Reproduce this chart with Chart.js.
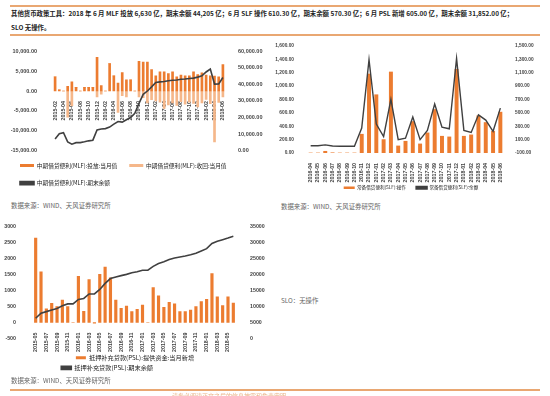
<!DOCTYPE html>
<html>
<head>
<meta charset="utf-8">
<script src="https://cdn.jsdelivr.net/npm/chart.js@4.4.1/dist/chart.umd.min.js"></script>
<style>
body{margin:0;background:#fff;width:550px;height:396px;overflow:hidden;position:relative;font-family:"Noto Sans CJK SC",sans-serif;}
.rule{position:absolute;left:10px;width:530px;height:1.5px;background:#e9a772;}
.t{position:absolute;white-space:nowrap;line-height:1;}
.src{font-size:6.4px;color:#666;}
.box{position:absolute;}
</style>
</head>
<body>
<div class="rule" style="top:5px"></div>
<div class="t" style="left:11px;top:11px;font-size:6.4px;font-weight:bold;color:#222">其他货币政策工具：2018 年 6 月 MLF 投放 6,630 亿，期末余额 44,205 亿；6 月 SLF 操作 610.30 亿，期末余额 570.30 亿；6 月 PSL 新增 605.00 亿，期末余额 31,852.00 亿；</div>
<div class="t" style="left:11px;top:25px;font-size:6.4px;font-weight:bold;color:#222">SLO 无操作。</div>
<div class="rule" style="top:34px"></div>

<div class="box" style="left:0;top:40px;width:268px;height:156px"><canvas id="mlf"></canvas></div>
<div class="box" style="left:272px;top:38px;width:278px;height:162px"><canvas id="slf"></canvas></div>
<div class="box" style="left:0;top:214px;width:270px;height:167px"><canvas id="psl"></canvas></div>

<div class="t src" style="left:11px;top:203px">数据来源：WIND、天风证券研究所</div>
<div class="t src" style="left:281px;top:204px">数据来源：WIND、天风证券研究所</div>
<div class="t src" style="left:281px;top:298px">SLO：无操作</div>
<div class="t src" style="left:11px;top:378px">数据来源：WIND、天风证券研究所</div>
<div class="rule" style="top:389px"></div>
<div class="t" style="left:172px;top:393px;font-size:6px;color:#eab48a">请务必阅读正文之后的信息披露和免责申明</div>

<script>
// MLF
var mlfMonths = ['2015-02','2015-03','2015-04','2015-05','2015-06','2015-07','2015-08','2015-09','2015-10','2015-11','2015-12',
  '2016-01','2016-02','2016-03','2016-04','2016-05','2016-06','2016-07','2016-08','2016-09','2016-10','2016-11','2016-12',
  '2017-01','2017-02','2017-03','2017-04','2017-05','2017-06','2017-07','2017-08','2017-09','2017-10','2017-11','2017-12',
  '2018-01','2018-02','2018-03','2018-04','2018-05','2018-06'];
var mlfPut = [3600,330,0,1150,2300,900,0,900,900,900,8500,1400,0,6900,3800,2000,4650,2800,2800,0,
  7500,7300,7300,5400,3850,4800,4800,4400,4800,3600,4000,3850,3850,4800,4150,4600,4000,3850,3750,3600,6630];
var mlfBack = [0,0,0,-6600,-3700,0,0,0,0,0,-1500,-800,0,0,0,-5400,-1200,-1500,0,0,
  -1500,-1700,-3000,-2200,-2500,-2800,-4400,-3500,-3000,-3600,-2700,-3300,-2800,-3100,-4000,-3000,-2100,-3200,-12800,-2900,-1500];
var mlfBalance = [7000,10200,10800,5300,3900,4800,4800,5300,5900,6300,12500,13100,13300,14200,16000,17600,17200,18600,20000,22500,
  28500,34000,36000,38500,41200,41500,41800,42200,42500,42700,43100,43300,43600,43800,44400,45200,47500,49300,40200,40300,44205];

// SLF
var slfMonths = ['2016-04','2016-05','2016-06','2016-07','2016-08','2016-09','2016-10','2016-11','2016-12',
  '2017-01','2017-02','2017-03','2017-04','2017-05','2017-06','2017-07','2017-08','2017-09','2017-10','2017-11','2017-12',
  '2018-01','2018-02','2018-03','2018-04','2018-05','2018-06'];
var slfOps = [0,0,25,3,0,0,0,280,1180,870,200,1210,105,175,470,135,300,650,250,240,1250,250,270,555,455,325,610.30];
var slfBalance = [7,7,21,4,0,0,0,271,1294,331,146,702,99,122,438,99,238,632,285,261,1313,238,206,470,391,224,570.30];

// PSL
var pslMonths = ['2015-05','2015-06','2015-07','2015-08','2015-09','2015-10','2015-11','2015-12',
  '2016-01','2016-02','2016-03','2016-04','2016-05','2016-06','2016-07','2016-08','2016-09','2016-10','2016-11','2016-12',
  '2017-01','2017-02','2017-03','2017-04','2017-05','2017-06','2017-07','2017-08','2017-09','2017-10','2017-11','2017-12',
  '2018-01','2018-02','2018-03','2018-04','2018-05','2018-06'];
var pslNew = [2630,1580,430,600,500,700,500,0,1440,350,1340,-20,1500,1730,1390,700,440,515,340,410,545,0,
  1090,835,475,630,580,340,340,390,495,650,720,1525,800,525,800,605];
var pslBalance = [6340,7900,8400,8900,9400,10200,10800,10800,12200,12500,13900,13900,15300,17200,18700,19200,19600,20000,20500,20800,21300,21300,
  22500,23400,23900,24600,25100,25400,25700,26100,26600,27300,28000,29600,30300,30800,31300,31852];

var orange = '#ec7c30';
var lightOrange = '#f5b78a';
var dark = '#404040';
var tickFont = function(size){ return {family:'Liberation Sans', size:size, weight:'bold'}; };
var legendFont = function(size){ return {family:'Noto Sans CJK SC', size:size}; };
function fmt2(v){ return Number(v).toLocaleString('en-US',{minimumFractionDigits:2,maximumFractionDigits:2}); }
function plain(v){ return String(v); }
function everyOther(v, i){ return i % 2 ? '' : this.getLabelForValue(v); }
function byIndex(a, b){ return a.datasetIndex - b.datasetIndex; }

new Chart(document.getElementById('mlf'), {
  type: 'bar',
  data: {
    labels: mlfMonths,
    datasets: [
      {label:'中期借贷便利(MLF):投放:当月值', data: mlfPut, backgroundColor: orange, barThickness: 2, order: 1},
      {label:'中期借贷便利(MLF):收回:当月值', data: mlfBack, backgroundColor: lightOrange, barThickness: 2, order: 1},
      {type:'line', label:'中期借贷便利(MLF):期末余额', data: mlfBalance, yAxisID:'y1', borderColor: dark, backgroundColor: dark,
        borderWidth: 1.6, pointRadius: 0, tension: 0, order: 0}
    ]
  },
  options: {
    animation: false, responsive: true, maintainAspectRatio: false,
    layout: {padding: {left: 8, right: 0, top: 2, bottom: 0}},
    plugins: {
      tooltip: {enabled: false},
      legend: {position: 'bottom', align: 'start',
        labels: {boxWidth: 14, boxHeight: 3, padding: 12, color: '#222', font: legendFont(5.7), sort: byIndex}}
    },
    scales: {
      x: {stacked: true, position: {y: 0}, grid: {display: false}, border: {display: false},
        ticks: {autoSkip: false, maxRotation: 90, minRotation: 90, padding: 2, color: '#444', font: tickFont(5.3), callback: everyOther}},
      y: {stacked: true, min: -15000, max: 10000, grid: {display: false}, border: {display: false},
        ticks: {stepSize: 5000, padding: 8, color: '#444', font: tickFont(5.5), callback: fmt2},
        afterFit: function(s){ s.width = 45; }},
      y1: {position: 'right', min: 0, max: 60000, grid: {display: false}, border: {display: false},
        ticks: {stepSize: 10000, padding: 5, color: '#444', font: tickFont(5.5), callback: fmt2},
        afterFit: function(s){ s.width = 43; }}
    }
  }
});

new Chart(document.getElementById('slf'), {
  type: 'bar',
  data: {
    labels: slfMonths,
    datasets: [
      {label:'常备借贷便利(SLF):操作　　', data: slfOps, backgroundColor: orange, barThickness: 3.3, order: 1},
      {type:'line', label:'常备借贷便利(SLF):余额', data: slfBalance, yAxisID:'y1', borderColor: dark, backgroundColor: dark,
        borderWidth: 1.4, pointRadius: 0, tension: 0, order: 0}
    ]
  },
  options: {
    animation: false, responsive: true, maintainAspectRatio: false,
    layout: {padding: {left: 0, right: 0, top: 5, bottom: 0}},
    plugins: {
      tooltip: {enabled: false},
      legend: {position: 'bottom', align: 'center',
        labels: {boxWidth: 11, boxHeight: 2.5, padding: 1, color: '#222', font: legendFont(4.6), sort: byIndex}}
    },
    scales: {
      x: {grid: {display: false}, border: {display: false},
        ticks: {autoSkip: false, maxRotation: 90, minRotation: 90, padding: 2, color: '#444', font: tickFont(5.3)}},
      y: {min: 0, max: 1600, grid: {display: false}, border: {display: false},
        ticks: {stepSize: 200, padding: 5, color: '#444', font: tickFont(4.8), callback: fmt2},
        afterFit: function(s){ s.width = 35; }},
      y1: {position: 'right', min: -100, max: 1500, grid: {display: false}, border: {display: false},
        ticks: {stepSize: 200, padding: 3, color: '#444', font: tickFont(4.8), callback: fmt2},
        afterFit: function(s){ s.width = 46; }}
    }
  }
});

new Chart(document.getElementById('psl'), {
  type: 'bar',
  data: {
    labels: pslMonths,
    datasets: [
      {label:'抵押补充贷款(PSL):提供资金:当月新增', data: pslNew, backgroundColor: orange, barThickness: 2.5, order: 1},
      {type:'line', label:'抵押补充贷款(PSL):期末余额　　　　　　　　　', data: pslBalance, yAxisID:'y1', borderColor: dark, backgroundColor: dark,
        borderWidth: 1.6, pointRadius: 0, tension: 0, order: 0}
    ]
  },
  options: {
    animation: false, responsive: true, maintainAspectRatio: false,
    layout: {padding: {left: 0, right: 0, top: 3, bottom: 0}},
    plugins: {
      tooltip: {enabled: false},
      legend: {position: 'bottom', align: 'center',
        title: {display: true, text: ' ', font: {size: 2}, padding: {top: 9.6, bottom: 0}},
        labels: {boxWidth: 10, boxHeight: 3, padding: 4, color: '#222', font: legendFont(6.2), sort: byIndex}}
    },
    scales: {
      x: {position: {y: 0}, grid: {display: false}, border: {display: false},
        ticks: {autoSkip: false, maxRotation: 90, minRotation: 90, padding: 2, color: '#444', font: tickFont(5.3), callback: everyOther}},
      y: {min: -500, max: 3000, grid: {display: false}, border: {display: false},
        ticks: {stepSize: 500, padding: 9, color: '#444', font: tickFont(5.3), callback: plain},
        afterFit: function(s){ s.width = 33; }},
      y1: {position: 'right', min: 0, max: 35000, grid: {display: false}, border: {display: false},
        ticks: {stepSize: 5000, padding: 6, color: '#444', font: tickFont(5.3), callback: plain},
        afterFit: function(s){ s.width = 34; }}
    }
  }
});
</script>
</body>
</html>
